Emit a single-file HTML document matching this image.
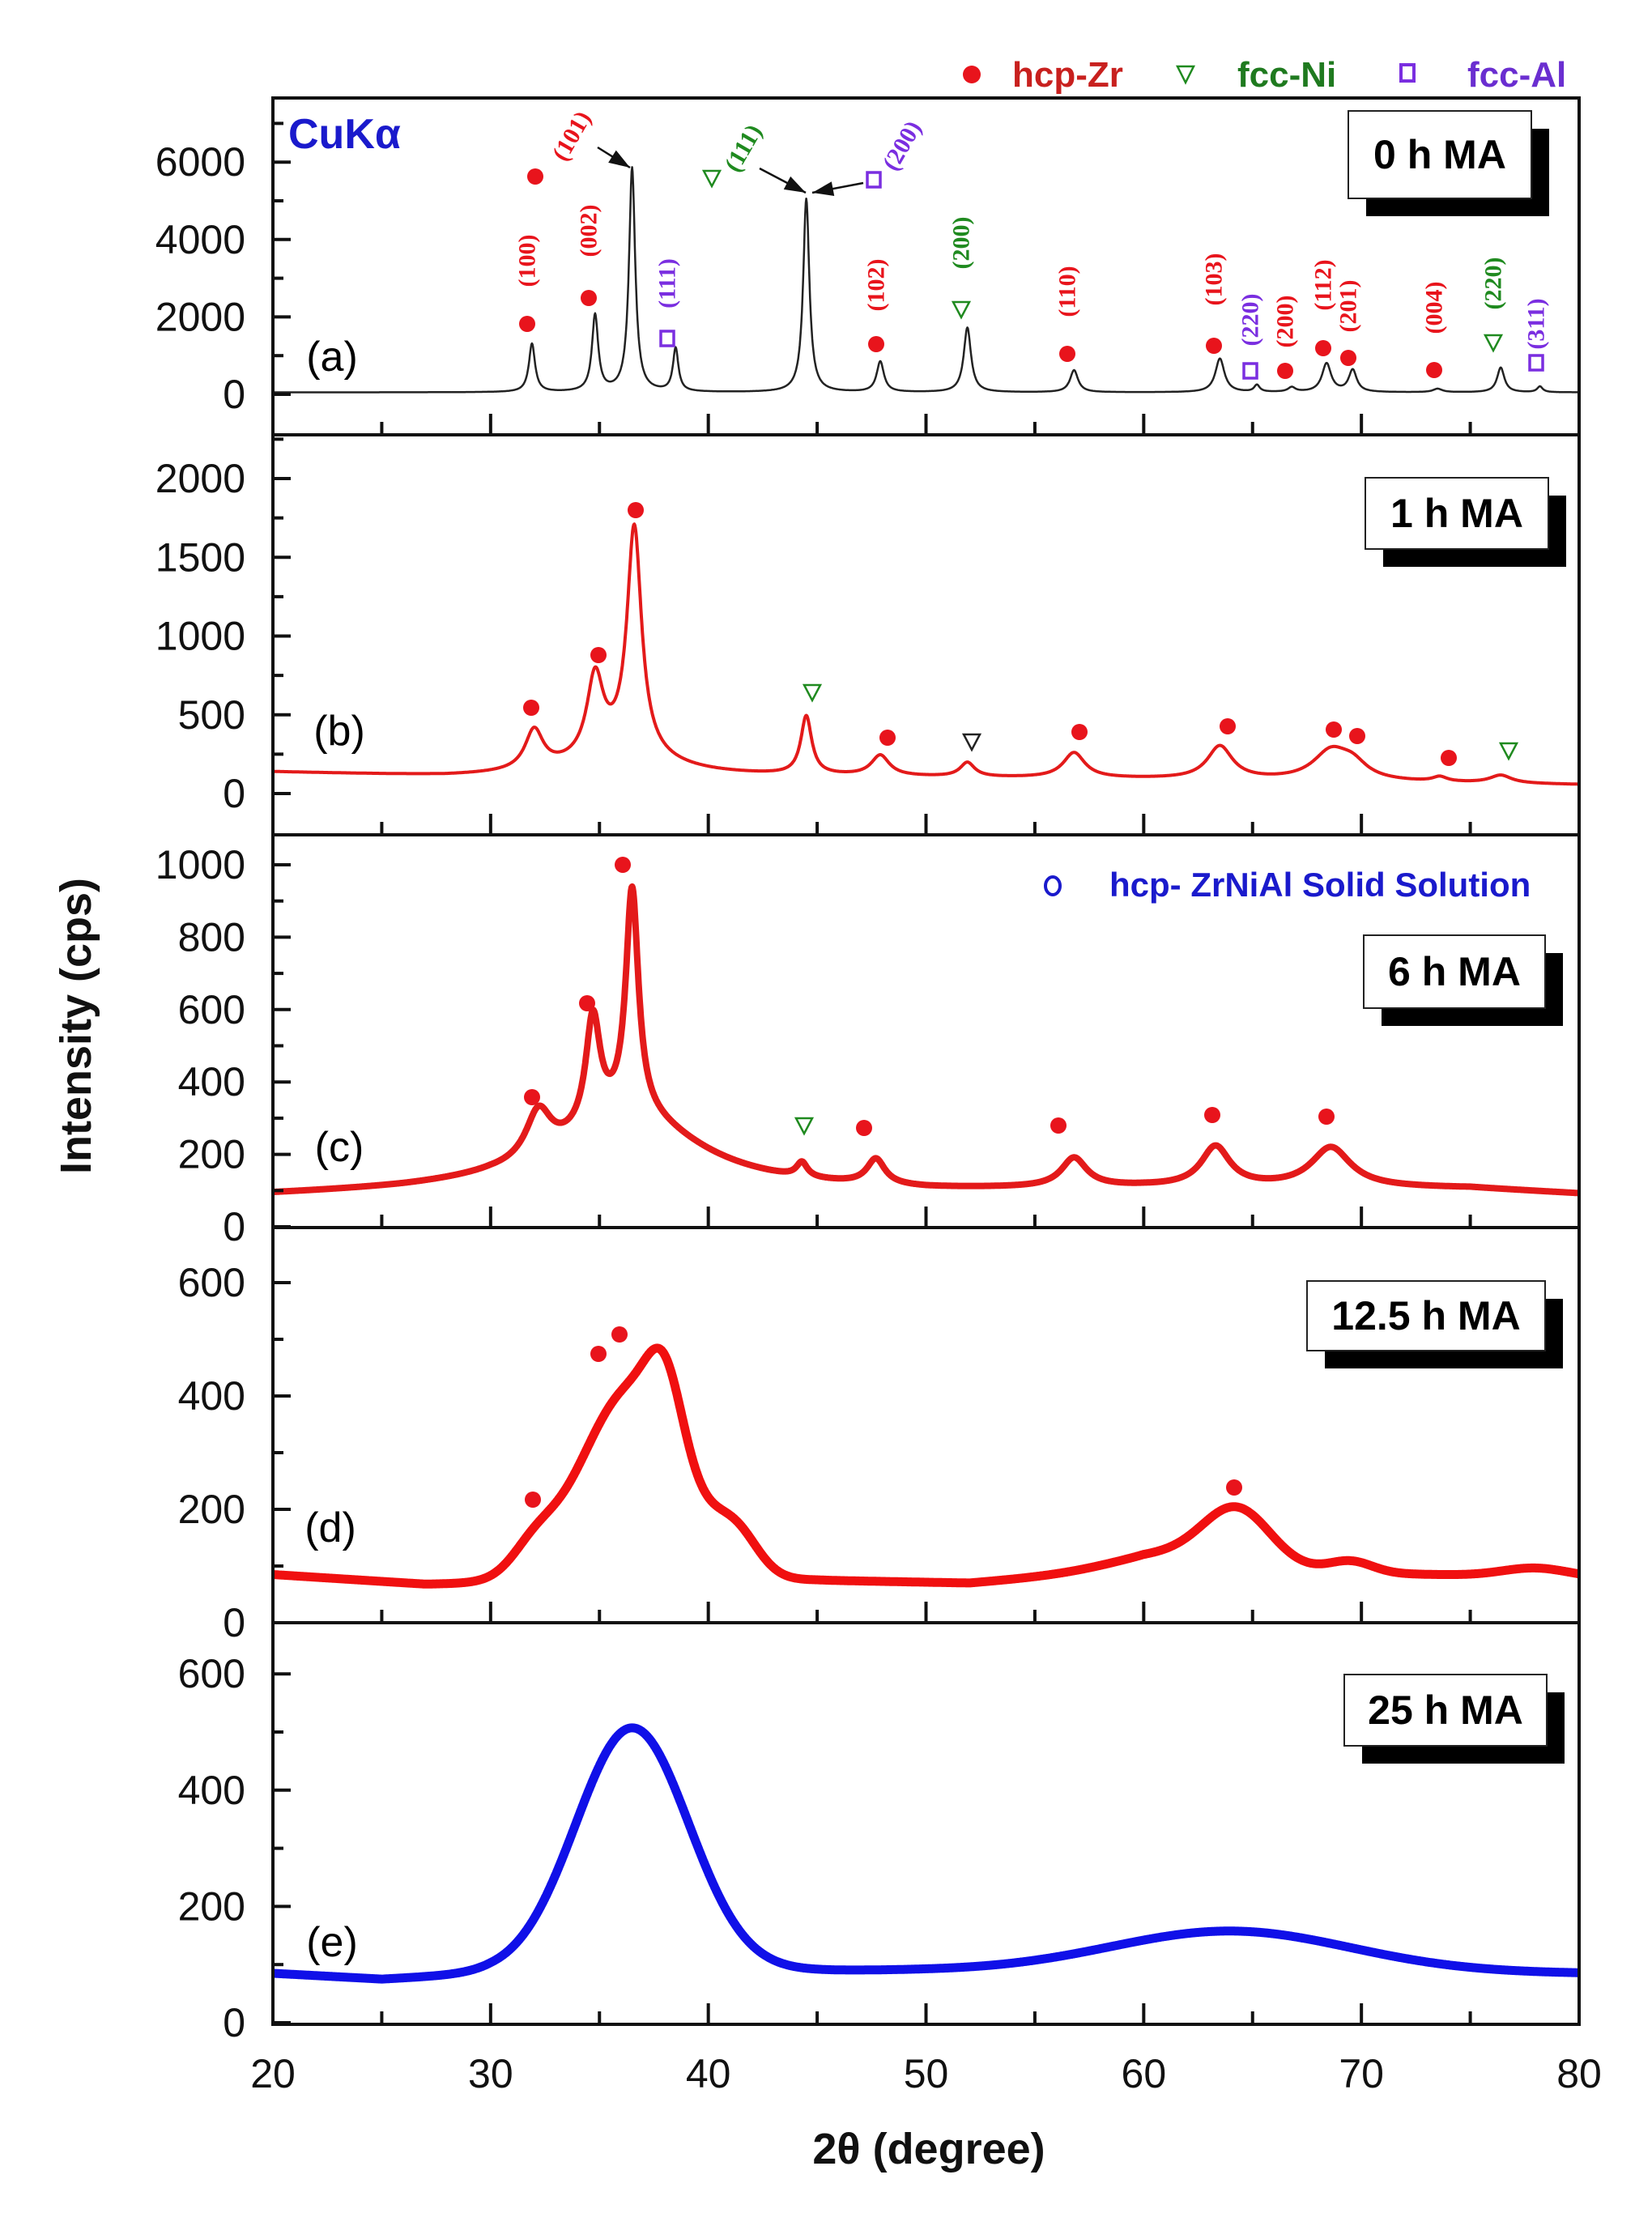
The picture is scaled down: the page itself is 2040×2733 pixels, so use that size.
<!DOCTYPE html>
<html><head><meta charset="utf-8"><style>
html,body{margin:0;padding:0;background:#fff}
svg text{font-family:"Liberation Sans",sans-serif}
.tk{font-size:50px;fill:#111}
.hkl{font-family:"Liberation Serif",serif !important;font-weight:bold;font-size:30px}
.leg{font-family:"Liberation Sans Narrow","Liberation Sans",sans-serif !important;font-weight:bold;font-size:44px}
.ttl{font-family:"Liberation Sans Narrow","Liberation Sans",sans-serif !important;font-weight:bold;font-size:50px}
</style></head><body>
<svg id="chart" width="2040" height="2728" viewBox="0 0 2040 2728" xmlns="http://www.w3.org/2000/svg">
<g id="curves"></g>
<g id="axes"></g>
<g id="ann"></g>
</svg>
<script>
// ---- x axis data ----
const xTickValues = [20,30,40,50,60,70,80];
const xMinorValues = [25,35,45,55,65,75];
// ---- panel (a) 0 h ----
const aBaseX = [20,80];
const aBaseY = [50,50];
const aPeakPos = [31.9,34.8,36.5,38.5,44.5,47.9,51.9,56.8,63.5,65.2,66.8,68.4,69.6,73.5,76.4,78.2];
const aPeakH   = [1250,1980,5790,1120,5000,790,1670,570,870,180,120,740,570,90,640,150];
const aPeakW   = [0.17,0.17,0.17,0.15,0.17,0.2,0.2,0.22,0.25,0.15,0.2,0.25,0.22,0.25,0.2,0.15];
// ---- panel (b) 1 h ----
const bBaseX = [20,28,45,60,80];
const bBaseY = [135,105,105,90,55];
const bPeakPos = [32,34.8,36.6,36,44.5,47.9,51.9,56.8,63.5,68.6,69.6,73.6,76.4];
const bPeakH   = [250,500,1430,150,370,130,90,160,210,180,90,30,50];
const bPeakW   = [0.5,0.45,0.4,2.5,0.3,0.5,0.4,0.6,0.7,1.0,0.8,0.4,0.6];
// ---- panel (c) 6 h ----
const cBaseX = [20,26,30,50,60,75,80];
const cBaseY = [85,95,105,95,105,105,90];
const cPeakPos = [36.5,32.2,34.7,36.5,44.3,47.7,56.8,63.3,68.6];
const cPeakH   = [200,130,300,620,40,70,80,110,110];
const cPeakW   = [3.8,0.7,0.4,0.35,0.3,0.5,0.7,0.8,1.1];
// ---- panel (d) 12.5 h ----
const dBaseX = [20,27,45,52,60,80];
const dBaseY = [85,68,75,70,95,80];
const dPeakPos = [36.5,38,41.3,32,64.3,62,69.5,78];
const dPeakH   = [340,120,60,40,90,30,20,15];
const dPeakW   = [2.4,0.8,1.0,1.0,1.5,3,1,1.5];
// ---- panel (e) 25 h ----
const eBaseX = [20,25,30,45,50,80];
const eBaseY = [85,75,85,90,90,85];
const ePeakPos = [36.5,64];
const ePeakH   = [420,70];
const ePeakW   = [2.6,5.5];
// ---- y ticks ----
const aTicks=[0,2000,4000,6000], aMinor=[1000,3000,5000,7000];
const bTicks=[0,500,1000,1500,2000], bMinor=[250,750,1250,1750,2250];
const cTicks=[0,200,400,600,800,1000], cMinor=[100,300,500,700,900];
const dTicks=[0,200,400,600], dMinor=[100,300,500];
const eTicks=[0,200,400,600], eMinor=[100,300,500];

const NS="http://www.w3.org/2000/svg";
const X0=337,X1=1950;
function xs(v){return X0+(v-20)*(X1-X0)/60;}
function mk(tag,attrs,parent){const e=document.createElementNS(NS,tag);for(const k in attrs)e.setAttribute(k,attrs[k]);parent.appendChild(e);return e;}
const gC=document.getElementById('curves'),gA=document.getElementById('axes'),gN=document.getElementById('ann');

const panels=[
 {id:'a',top:121,bot:537,zero:487,k:0.0478,bx:aBaseX,by:aBaseY,pp:aPeakPos,ph:aPeakH,pw:aPeakW,shape:'L',color:'#222',sw:2.5,ticks:aTicks,minor:aMinor},
 {id:'b',top:537,bot:1031,zero:980,k:0.1945,bx:bBaseX,by:bBaseY,pp:bPeakPos,ph:bPeakH,pw:bPeakW,shape:'L',color:'#e31a1a',sw:4,ticks:bTicks,minor:bMinor},
 {id:'c',top:1031,bot:1516,zero:1515,k:0.447,bx:cBaseX,by:cBaseY,pp:cPeakPos,ph:cPeakH,pw:cPeakW,shape:'L',color:'#e31a1a',sw:8,ticks:cTicks,minor:cMinor},
 {id:'d',top:1516,bot:2004,zero:2004,k:0.7,bx:dBaseX,by:dBaseY,pp:dPeakPos,ph:dPeakH,pw:dPeakW,shape:'G',color:'#f01010',sw:11,ticks:dTicks,minor:dMinor},
 {id:'e',top:2004,bot:2500,zero:2498,k:0.718,bx:eBaseX,by:eBaseY,pp:ePeakPos,ph:ePeakH,pw:ePeakW,shape:'G',color:'#1010e8',sw:11,ticks:eTicks,minor:eMinor}
];
function interp(xa,ya,v){for(let i=0;i<xa.length-1;i++){if(v<=xa[i+1]){const t=(v-xa[i])/(xa[i+1]-xa[i]);return ya[i]+t*(ya[i+1]-ya[i]);}}return ya[ya.length-1];}
panels.forEach(p=>{
  const ys=v=>p.zero-v*p.k;
  let d='';
  for(let i=0;i<=2400;i++){
    const v=20+60*i/2400;
    let I=interp(p.bx,p.by,v);
    for(let j=0;j<p.pp.length;j++){
      const u=(v-p.pp[j])/p.pw[j];
      I+=p.shape==='L'?p.ph[j]/(1+u*u):p.ph[j]*Math.exp(-u*u/2);
    }
    d+=(i?'L':'M')+xs(v).toFixed(1)+','+ys(I).toFixed(1);
  }
  const path=mk('path',{d:d,fill:'none',stroke:p.color,'stroke-width':p.sw,'stroke-linejoin':'round'},gC);
  
  
  const r=mk('rect',{x:X0,y:p.top,width:X1-X0,height:p.bot-p.top,fill:'none',stroke:'#111','stroke-width':4},gA);
  
  
  p.ticks.forEach(t=>{
    const y=ys(t);
    const l=mk('line',{x1:X0,x2:X0+22,y1:y,y2:y,stroke:'#111','stroke-width':4},gA);
    
    
    const tx=mk('text',{x:303,y:y+17,'text-anchor':'end',class:'tk'},gA);
    tx.textContent=t;
    
    
  });
  p.minor.forEach(t=>{
    const y=ys(t); if(y<p.top+4||y>p.bot-4)return;
    const l=mk('line',{x1:X0,x2:X0+13,y1:y,y2:y,stroke:'#111','stroke-width':4},gA);
    
    
  });
  xTickValues.forEach(t=>{
    const l=mk('line',{x1:xs(t),x2:xs(t),y1:p.bot,y2:p.bot-26,stroke:'#111','stroke-width':4},gA);
    
    
  });
  xMinorValues.forEach(t=>{
    const l=mk('line',{x1:xs(t),x2:xs(t),y1:p.bot,y2:p.bot-16,stroke:'#111','stroke-width':4},gA);
    
    
  });
});
xTickValues.forEach(t=>{
  const tx=mk('text',{x:xs(t),y:2578,'text-anchor':'middle',class:'tk'},gA);
  tx.textContent=t;
  
  
});

const RED='#e8141c',GRN='#1f8a1f',PUR='#7a2ee0';
function dot(x,y){const e=mk('circle',{cx:x,cy:y,r:10,fill:RED},gN);}
function tri(x,y,c){const e=mk('path',{d:`M${x-10},${y-9}L${x+10},${y-9}L${x},${y+10}Z`,fill:'none',stroke:c||GRN,'stroke-width':2.5},gN);}
function sq(x,y){const e=mk('rect',{x:x-8,y:y-9,width:16,height:18,fill:'none',stroke:PUR,'stroke-width':3.5},gN);}
function hkl(x,y,t,c,ang){const e=mk('text',{x:0,y:0,transform:`translate(${x},${y}) rotate(${ang||-90})`,'text-anchor':'middle',class:'hkl',fill:c,'dominant-baseline':'central'},gN);e.textContent=t;}
function arrow(x1,y1,x2,y2){const e=mk('line',{x1:x1,y1:y1,x2:x2,y2:y2,stroke:'#111','stroke-width':2.5},gN);
 const a=Math.atan2(y2-y1,x2-x1),L=26,W=9;const bx=x2-L*Math.cos(a),by=y2-L*Math.sin(a);
 const h=mk('path',{d:`M${x2},${y2}L${bx-W*Math.sin(a)},${by+W*Math.cos(a)}L${bx+W*Math.sin(a)},${by-W*Math.cos(a)}Z`,fill:'#111'},gN);}
dot(651,400);hkl(651,322,'(100)',RED);
dot(661,218);hkl(706,168,'(101)',RED,-60);
dot(727,368);hkl(727,285,'(002)',RED);
sq(824,418);hkl(824,350,'(111)',PUR);
arrow(738,182,778,207);
tri(879,220);hkl(918,183,'(111)',GRN,-60);
arrow(938,208,995,238);arrow(1066,226,1003,238);
sq(1079,222);hkl(1114,180,'(200)',PUR,-60);
dot(1082,425);hkl(1082,352,'(102)',RED);
tri(1187,382);hkl(1187,300,'(200)',GRN);
dot(1318,437);hkl(1318,360,'(110)',RED);
dot(1499,427);hkl(1499,345,'(103)',RED);
sq(1544,458);hkl(1544,395,'(220)',PUR);
dot(1587,458);hkl(1587,397,'(200)',RED);
dot(1634,430);hkl(1634,352,'(112)',RED);
dot(1665,442);hkl(1665,378,'(201)',RED);
dot(1771,457);hkl(1771,380,'(004)',RED);
tri(1844,423);hkl(1844,350,'(220)',GRN);
sq(1897,448);hkl(1897,400,'(311)',PUR);
[[656,874],[739,809],[785,630],[1096,911],[1333,904],[1516,897],[1647,901],[1676,909],[1789,936]].forEach(p=>dot(p[0],p[1]));
tri(1003,855);tri(1200,916,'#222');tri(1863,927);
[[769,1068],[725,1239],[657,1355],[1067,1393],[1307,1390],[1497,1377],[1638,1379]].forEach(p=>dot(p[0],p[1]));
tri(993,1390);
[[658,1852],[739,1672],[765,1648],[1524,1837]].forEach(p=>dot(p[0],p[1]));

function box(x,y,w,h,t,name){
  const s=mk('rect',{x:x+22,y:y+22,width:w,height:h,fill:'#000'},gN);
  const b=mk('rect',{x:x,y:y,width:w,height:h,fill:'#fff',stroke:'#222','stroke-width':2},gN);
  const tx=mk('text',{x:x+w/2,y:y+h/2+17,'text-anchor':'middle',class:'ttl',fill:'#000'},gN);tx.textContent=t;
}
box(1665,137,226,108,'0 h MA','label-0h');
box(1686,590,226,88,'1 h MA','label-1h');
box(1684,1155,224,90,'6 h MA','label-6h');
box(1614,1582,294,86,'12.5 h MA','label-12-5h');
box(1660,2068,250,88,'25 h MA','label-25h');
</script>
<svg style="position:absolute;left:0;top:0" width="2040" height="2728">
<text x="410" y="458" text-anchor="middle" font-family="Liberation Sans, sans-serif" font-size="52">(a)</text>
<text x="419" y="920" text-anchor="middle" font-family="Liberation Sans, sans-serif" font-size="52">(b)</text>
<text x="419" y="1434" text-anchor="middle" font-family="Liberation Sans, sans-serif" font-size="52">(c)</text>
<text x="408" y="1904" text-anchor="middle" font-family="Liberation Sans, sans-serif" font-size="52">(d)</text>
<text x="410" y="2416" text-anchor="middle" font-family="Liberation Sans, sans-serif" font-size="52">(e)</text>
<text x="356" y="183" font-family="Liberation Sans, sans-serif" font-weight="bold" font-size="52" fill="#1a1acc">CuKα</text>
<circle cx="1200" cy="92" r="11" fill="#e8141c"/>
<text x="1250" y="107" font-family="Liberation Sans Narrow, Liberation Sans, sans-serif" font-weight="bold" font-size="44" fill="#c8201e">hcp-Zr</text>
<path d="M1454,82L1474,82L1464,102Z" fill="none" stroke="#1f8a1f" stroke-width="2.5"/>
<text x="1528" y="107" font-family="Liberation Sans Narrow, Liberation Sans, sans-serif" font-weight="bold" font-size="44" fill="#1f7a1f">fcc-Ni</text>
<rect x="1730" y="80" width="16" height="20" fill="none" stroke="#7a2ee0" stroke-width="4"/>
<text x="1812" y="107" font-family="Liberation Sans Narrow, Liberation Sans, sans-serif" font-weight="bold" font-size="44" fill="#6a2ed0">fcc-Al</text>
<ellipse cx="1300" cy="1094" rx="9" ry="11" fill="none" stroke="#1a1acc" stroke-width="4"/>
<text x="1370" y="1107" font-family="Liberation Sans Narrow, Liberation Sans, sans-serif" font-weight="bold" font-size="42" fill="#1a1acc">hcp- ZrNiAl Solid Solution</text>
<text transform="translate(112,1267) rotate(-90)" text-anchor="middle" font-family="Liberation Sans, sans-serif" font-weight="bold" font-size="54" fill="#111">Intensity (cps)</text>
<text x="1147" y="2672" text-anchor="middle" font-family="Liberation Sans, sans-serif" font-weight="bold" font-size="54" fill="#111">2θ (degree)</text>
</svg>
</body></html>
